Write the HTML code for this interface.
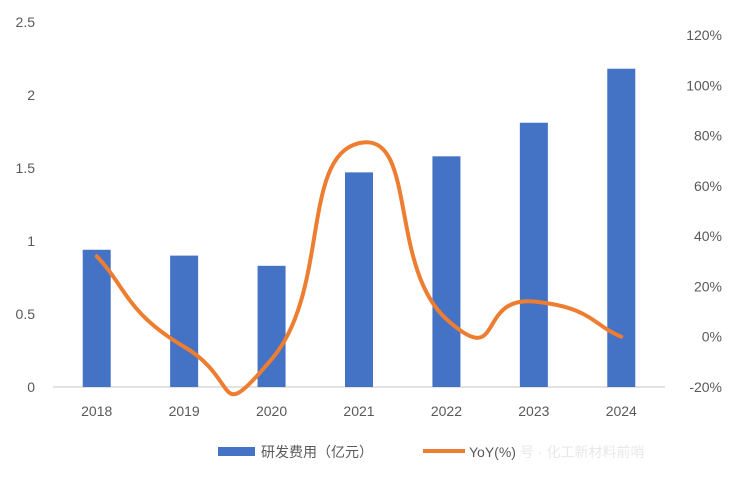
<!DOCTYPE html>
<html><head><meta charset="utf-8"><style>
body{margin:0;background:#fff;}
svg text{font-family:"Liberation Sans","Noto Sans CJK SC",sans-serif;fill:#595959;font-size:14px;}
</style></head><body>
<svg id="chart" width="734" height="480" xmlns="http://www.w3.org/2000/svg">
<g id="g"></g>
<rect x="218" y="447" width="37" height="9" fill="#4472c4"/>
<text x="261" y="457" font-size="15">研发费用（亿元）</text>
<line x1="423" y1="451" x2="465" y2="451" stroke="#ed7d31" stroke-width="4"/>
<text x="469" y="457" font-size="15">YoY(%)</text>
<text x="520" y="457" font-size="16" style="fill:#e8e8e8">号 · 化工新材料前哨</text>
</svg>
<script>
const categories=["2018","2019","2020","2021","2022","2023","2024"];
const rdValues=[0.94,0.90,0.83,1.47,1.58,1.81,2.18];
const yoyValues=[32,-4,-9,77,7,14,0];
const leftTicks=["0","0.5","1","1.5","2","2.5"];
const rightTicks=["-20%","0%","20%","40%","60%","80%","100%","120%"];
const X0=53,X1=665,Y0=387,Y1=22;
const band=(X1-X0)/categories.length;
const xc=i=>X0+band*(i+0.5);
const yL=v=>Y0-(v/2.5)*(Y0-Y1);
const yR=v=>Y0-((v+20)/140)*(Y0-35);
const g=document.getElementById('g');
const NS="http://www.w3.org/2000/svg";
function mk(t,a){const e=document.createElementNS(NS,t);for(const k in a)e.setAttribute(k,a[k]);g.appendChild(e);return e;}
leftTicks.forEach((t,i)=>{const e=mk('text',{x:35,y:yL(parseFloat(t))+5,'text-anchor':'end'});e.textContent=t;

});
rightTicks.forEach(t=>{const e=mk('text',{x:722,y:yR(parseFloat(t))+5,'text-anchor':'end'});e.textContent=t;

});
const ax=mk('line',{x1:X0,y1:Y0,x2:X1,y2:Y0,stroke:'#d9d9d9','stroke-width':1.5});


categories.forEach((c,i)=>{
 const r=mk('rect',{x:xc(i)-14,y:yL(rdValues[i]),width:28,height:Y0-yL(rdValues[i]),fill:'#4472c4'});
 
 
 const t=mk('text',{x:xc(i),y:416,'text-anchor':'middle'});t.textContent=c;
 
 
});
const P=yoyValues.map((v,i)=>[xc(i),yR(v)]);
let d='M'+P[0][0]+','+P[0][1];const k=0.5/3*2;
for(let i=0;i<P.length-1;i++){const p0=P[Math.max(i-1,0)],p1=P[i],p2=P[i+1],p3=P[Math.min(i+2,P.length-1)];
 const c1=[p1[0]+(p2[0]-p0[0])*k,p1[1]+(p2[1]-p0[1])*k],c2=[p2[0]-(p3[0]-p1[0])*k,p2[1]-(p3[1]-p1[1])*k];
 d+=` C${c1[0]},${c1[1]} ${c2[0]},${c2[1]} ${p2[0]},${p2[1]}`;}
const l=mk('path',{d:d,fill:'none',stroke:'#ed7d31','stroke-width':4,'stroke-linecap':'round'});


</script>
</body></html>
